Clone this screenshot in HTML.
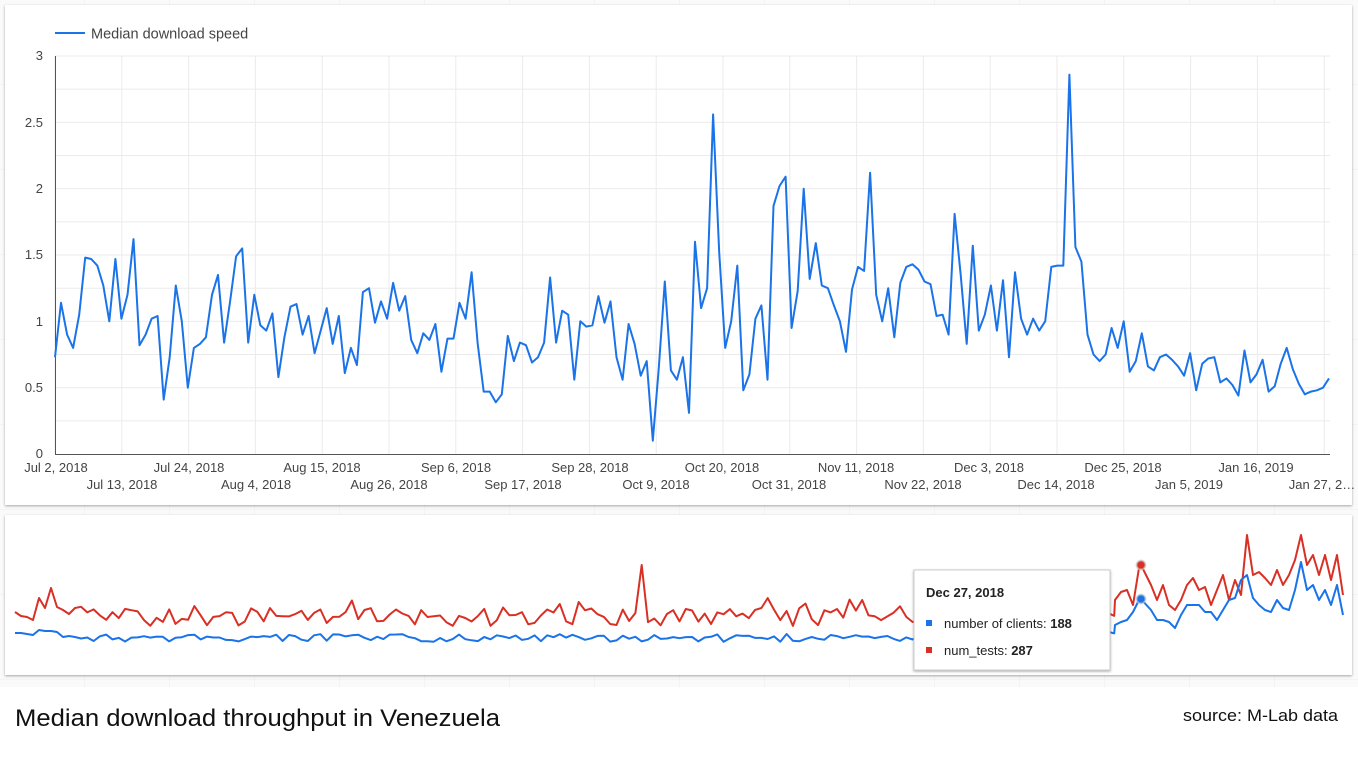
<!DOCTYPE html>
<html><head><meta charset="utf-8"><style>
html,body{margin:0;padding:0;width:1358px;height:771px;overflow:hidden;background:#fff;font-family:"Liberation Sans",sans-serif}
</style></head><body>
<svg id="s" width="1358" height="771" xmlns="http://www.w3.org/2000/svg" style="position:absolute;left:0;top:0">
<defs>
<filter id="sh" x="-2%" y="-5%" width="104%" height="110%"><feDropShadow dx="0" dy="1" stdDeviation="1.2" flood-color="#000" flood-opacity="0.35"/></filter>
<pattern id="bg" width="85" height="85" patternUnits="userSpaceOnUse" x="0" y="0"><rect width="85" height="85" fill="#fafafa"/><path d="M85 0V85M0 85H85" stroke="#ececec" stroke-width="1"/></pattern>
</defs>
<rect x="0" y="0" width="1358" height="687" fill="url(#bg)"/>
<rect x="5" y="5" width="1347" height="500" fill="#fff" filter="url(#sh)"/>
<rect x="5" y="515" width="1347" height="160" fill="#fff" filter="url(#sh)"/>
<g id="grid" stroke="#ebebeb" stroke-width="1"></g>
<line x1="55.5" y1="56" x2="55.5" y2="454" stroke="#555" stroke-width="1"/>
<line x1="55" y1="454.5" x2="1330" y2="454.5" stroke="#555" stroke-width="1"/>
<g font-size="13" fill="#444" text-anchor="end">
<text x="43" y="60">3</text><text x="43" y="127">2.5</text><text x="43" y="193">2</text><text x="43" y="259">1.5</text><text x="43" y="326">1</text><text x="43" y="392">0.5</text><text x="43" y="458">0</text>
</g>
<g font-size="13" fill="#444" text-anchor="middle">
<text x="56" y="472">Jul 2, 2018</text><text x="189" y="472">Jul 24, 2018</text><text x="322" y="472">Aug 15, 2018</text><text x="456" y="472">Sep 6, 2018</text><text x="590" y="472">Sep 28, 2018</text><text x="722" y="472">Oct 20, 2018</text><text x="856" y="472">Nov 11, 2018</text><text x="989" y="472">Dec 3, 2018</text><text x="1123" y="472">Dec 25, 2018</text><text x="1256" y="472">Jan 16, 2019</text>
<text x="122" y="489">Jul 13, 2018</text><text x="256" y="489">Aug 4, 2018</text><text x="389" y="489">Aug 26, 2018</text><text x="523" y="489">Sep 17, 2018</text><text x="656" y="489">Oct 9, 2018</text><text x="789" y="489">Oct 31, 2018</text><text x="923" y="489">Nov 22, 2018</text><text x="1056" y="489">Dec 14, 2018</text><text x="1189" y="489">Jan 5, 2019</text><text x="1322" y="489">Jan 27, 2…</text>
</g>
<line x1="55" y1="33" x2="85" y2="33" stroke="#1a73e8" stroke-width="2"/>
<text x="91" y="38.5" font-size="14.5" fill="#444">Median download speed</text>
<polyline id="main" fill="none" stroke="#1a73e8" stroke-width="2" stroke-linejoin="round"/>
<polyline id="red" fill="none" stroke="#d93025" stroke-width="2" stroke-linejoin="round"/>
<polyline id="blue" fill="none" stroke="#1a73e8" stroke-width="2" stroke-linejoin="round"/>
<circle cx="1141" cy="565" r="4.5" fill="#d93025" stroke="#ccc" stroke-opacity="0.6" stroke-width="2"/>
<circle cx="1141" cy="599" r="4.5" fill="#1a73e8" stroke="#ccc" stroke-opacity="0.6" stroke-width="2"/>
<rect x="914" y="570" width="196" height="100" fill="#fff" stroke="#ccc" filter="url(#sh)"/>
<text x="926" y="597" font-size="13" font-weight="bold" fill="#222">Dec 27, 2018</text>
<rect x="926" y="620" width="6" height="6" fill="#1a73e8"/>
<text x="944" y="628" font-size="13" fill="#222">number of clients: <tspan font-weight="bold">188</tspan></text>
<rect x="926" y="647" width="6" height="6" fill="#d93025"/>
<text x="944" y="655" font-size="13" fill="#222">num_tests: <tspan font-weight="bold">287</tspan></text>
<text x="15" y="726" font-size="24" fill="#111" font-family="Liberation Sans Narrow, Liberation Sans, sans-serif" textLength="485" lengthAdjust="spacingAndGlyphs">Median download throughput in Venezuela</text>
<text x="1338" y="721" font-size="17" fill="#111" text-anchor="end" textLength="155" lengthAdjust="spacingAndGlyphs">source: M-Lab data</text>
</svg>
<script>
var g=document.getElementById('grid'),h='';
for(var i=0;i<20;i++){var x=55+i*66.8;if(x>1330)break;h+='<line x1="'+x+'" y1="56" x2="'+x+'" y2="454"/>';}
for(var j=0;j<12;j++){var y=56+j*33.17;h+='<line x1="55" y1="'+y+'" x2="1330" y2="'+y+'"/>';}
g.innerHTML=h;
var v=[0.73,1.14,0.9,0.8,1.05,1.48,1.47,1.42,1.27,1.0,1.47,1.02,1.2,1.62,0.82,0.9,1.02,1.04,0.41,0.73,1.27,1.0,0.5,0.8,0.83,0.88,1.2,1.35,0.84,1.15,1.49,1.55,0.84,1.2,0.97,0.93,1.06,0.58,0.88,1.11,1.13,0.9,1.04,0.76,0.93,1.1,0.83,1.04,0.61,0.8,0.67,1.22,1.25,0.99,1.15,1.02,1.29,1.08,1.19,0.86,0.76,0.91,0.86,0.98,0.62,0.87,0.87,1.14,1.02,1.37,0.83,0.47,0.47,0.39,0.45,0.89,0.7,0.84,0.82,0.69,0.73,0.84,1.33,0.84,1.08,1.05,0.56,1.0,0.96,0.97,1.19,0.99,1.15,0.73,0.56,0.98,0.83,0.59,0.7,0.1,0.65,1.3,0.63,0.56,0.73,0.31,1.6,1.1,1.25,2.56,1.52,0.8,1.0,1.42,0.48,0.6,1.02,1.12,0.56,1.87,2.02,2.09,0.95,1.23,2.0,1.32,1.59,1.27,1.25,1.12,1.0,0.77,1.24,1.41,1.38,2.12,1.2,1.0,1.25,0.88,1.29,1.41,1.43,1.39,1.3,1.28,1.04,1.05,0.9,1.81,1.35,0.83,1.57,0.93,1.05,1.27,0.93,1.31,0.73,1.37,1.02,0.9,1.02,0.93,1.0,1.41,1.42,1.42,2.86,1.56,1.45,0.9,0.75,0.7,0.75,0.95,0.8,1.0,0.62,0.7,0.91,0.66,0.63,0.73,0.75,0.71,0.66,0.59,0.76,0.48,0.68,0.72,0.73,0.54,0.57,0.52,0.44,0.78,0.54,0.6,0.71,0.47,0.51,0.68,0.8,0.64,0.53,0.45,0.47,0.48,0.5,0.57];
var n=v.length,st=(1329-55)/(n-1),p=[];
for(var k=0;k<n;k++)p.push((55+k*st).toFixed(1)+','+(454-v[k]*132.67).toFixed(1));
document.getElementById('main').setAttribute('points',p.join(' '));
var seed=7;function r(){seed=(seed*9301+49297)%233280;return seed/233280;}
var R=[],B=[];
var rf=[[15,612],[21,616],[27,617],[33,620],[39,598],[45,608],[51,588],[57,607],[63,610],[69,614],[75,608]];
var rt=[[1115,600],[1121,592],[1127,590],[1133,605],[1139,568],[1141,565],[1151,585],[1157,600],[1163,585],[1169,605],[1175,610],[1181,600],[1187,585],[1193,578],[1199,590],[1205,587],[1211,605],[1217,590],[1223,575],[1229,600],[1235,580],[1241,595],[1247,535],[1253,575],[1259,572],[1265,578],[1271,585],[1277,570],[1283,585],[1289,575],[1295,560],[1301,535],[1307,565],[1313,555],[1319,575],[1325,555],[1331,580],[1337,555],[1343,595]];
var bt=[[1115,625],[1121,622],[1127,620],[1133,612],[1139,600],[1141,599],[1151,610],[1157,620],[1163,620],[1169,622],[1175,628],[1181,615],[1187,605],[1193,605],[1199,605],[1205,612],[1211,612],[1217,620],[1223,610],[1229,600],[1235,598],[1241,580],[1247,575],[1253,598],[1259,605],[1265,610],[1271,612],[1277,600],[1283,608],[1289,610],[1295,590],[1301,562],[1307,590],[1313,585],[1319,600],[1325,590],[1331,605],[1337,585],[1343,615]];
rf.forEach(function(a){R.push(a[0]+','+a[1]);});
var bf=[[15,633],[21,633],[27,634],[33,635],[39,630],[45,631],[51,631],[57,632],[63,637],[69,636],[75,637]];
bf.forEach(function(a){B.push(a[0]+','+a[1]);});
for(var x=81;x<1115;x+=6.3){
 var ry=617+(r()-0.5)*18, by=638+(r()-0.5)*8;
 if(r()<0.12)ry-=10;
 if(Math.abs(x-641)<3.2)ry=565;
 if(x>1050){ry-=(x-1050)*0.15;by-=(x-1050)*0.12;}
 R.push(x.toFixed(1)+','+ry.toFixed(1));B.push(x.toFixed(1)+','+by.toFixed(1));
}
rt.forEach(function(a){R.push(a[0]+','+a[1]);});
bt.forEach(function(a){B.push(a[0]+','+a[1]);});
document.getElementById('red').setAttribute('points',R.join(' '));
document.getElementById('blue').setAttribute('points',B.join(' '));
</script>
</body></html>
